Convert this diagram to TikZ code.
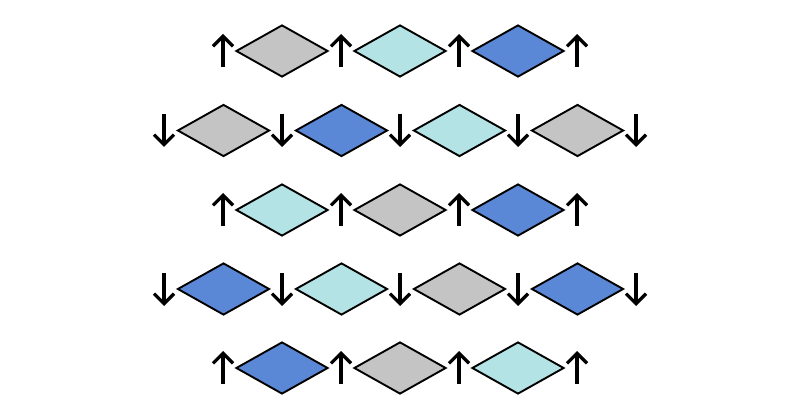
\documentclass[tikz,border=0pt]{standalone}
\usetikzlibrary{shapes.geometric, arrows.meta}

\definecolor{tilegray}{RGB}{196,196,196}
\definecolor{tilecyan}{RGB}{179,227,228}
\definecolor{tileblue}{RGB}{91,136,214}

\begin{document}
\begin{tikzpicture}[x=1pt, y=-1pt,
		tile/.style = {diamond, draw, line width = 1.9pt, inner sep = 0pt, minimum width = 92pt, minimum height = 52pt},
		spin/.style = {line width = 3.2pt, -{Straight Barb[length = 10pt, width = 20pt]}}]
			\def\dx{118};
			\useasboundingbox (0,0) rectangle (800,419);
			
			% rows with three tiles, spins up
			\begin{scope}
				\foreach \c [count = \i] in {tilegray, tilecyan, tileblue}
					\node [tile, fill = \c] (a\i) at ({164+\dx*\i}, 51) {};
				\foreach \i in {0,...,3}
					\draw [spin] ({223+\dx*\i}, 67) -- ++(0,-33);
			\end{scope}
			
			\begin{scope}
				\foreach \c [count = \i] in {tilecyan, tilegray, tileblue}
					\node [tile, fill = \c] (c\i) at ({164+\dx*\i}, 210) {};
				\foreach \i in {0,...,3}
					\draw [spin] ({223+\dx*\i}, 226) -- ++(0,-33);
			\end{scope}
			
			\begin{scope}
				\foreach \c [count = \i] in {tileblue, tilegray, tilecyan}
					\node [tile, fill = \c] (e\i) at ({164+\dx*\i}, 368) {};
				\foreach \i in {0,...,3}
					\draw [spin] ({223+\dx*\i}, 384) -- ++(0,-33);
			\end{scope}
			
			% rows with four tiles, spins down
			\begin{scope}
				\foreach \c [count = \i] in {tilegray, tileblue, tilecyan, tilegray}
					\node [tile, fill = \c] (b\i) at ({105.5+\dx*\i}, 130.5) {};
				\foreach \i in {0,...,4}
					\draw [spin] ({164+\dx*\i}, 114) -- ++(0,33);
			\end{scope}
			
			\begin{scope}
				\foreach \c [count = \i] in {tileblue, tilecyan, tilegray, tileblue}
					\node [tile, fill = \c] (d\i) at ({105.5+\dx*\i}, 289) {};
				\foreach \i in {0,...,4}
					\draw [spin] ({164+\dx*\i}, 273) -- ++(0,33);
			\end{scope}
			
		\end{tikzpicture}
\end{document}
